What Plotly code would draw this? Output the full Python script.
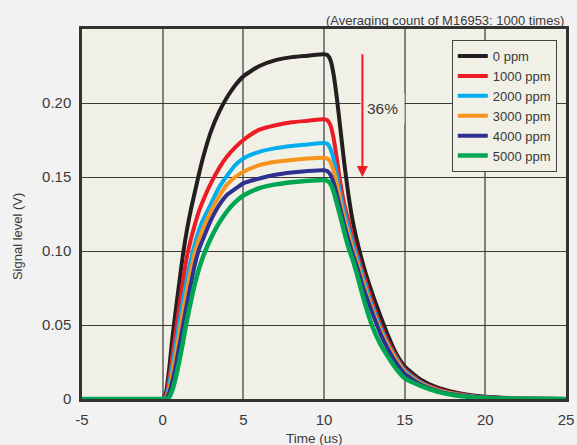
import plotly.graph_objects as go

# ---- data ----
time_us = [-5, 0, 0.2, 0.4, 0.6, 0.8, 1.0, 1.25, 1.5, 1.75,
           2.0, 2.25, 2.5, 3.0, 3.5, 4.0, 4.5, 5.0, 6.0, 7.0,
           8.0, 9.0, 10.0, 10.2, 10.4, 10.6, 10.8, 11.0, 11.25, 11.5,
           11.75, 12.0, 12.5, 13.0, 13.5, 14.0, 14.5, 15.0, 16.0, 17.0,
           18.0, 19.0, 20.0, 22.0, 25.0]

ppm_0 = [0, 0, 0.004, 0.020, 0.041, 0.059, 0.076, 0.097, 0.114, 0.128,
         0.140, 0.152, 0.163, 0.181, 0.194, 0.204, 0.212, 0.218, 0.225, 0.229,
         0.231, 0.232, 0.233, 0.2325, 0.229, 0.219, 0.203, 0.184, 0.160, 0.139,
         0.122, 0.109, 0.088, 0.071, 0.056, 0.042, 0.030, 0.022, 0.013, 0.0078,
         0.0048, 0.0028, 0.0015, 0.0005, 0]
ppm_1000 = [0, 0, 0.002, 0.013, 0.029, 0.045, 0.060, 0.079, 0.096, 0.108,
            0.118, 0.127, 0.134, 0.146, 0.156, 0.164, 0.170, 0.175, 0.182, 0.185,
            0.187, 0.188, 0.189, 0.1885, 0.185, 0.176, 0.162, 0.147, 0.132, 0.121,
            0.110, 0.100, 0.082, 0.065, 0.050, 0.038, 0.028, 0.020, 0.0115, 0.0068,
            0.004, 0.0022, 0.0011, 0.0003, 0]
ppm_2000 = [0, 0, 0.001, 0.009, 0.022, 0.036, 0.050, 0.066, 0.081, 0.094,
            0.105, 0.114, 0.121, 0.132, 0.143, 0.151, 0.158, 0.1625, 0.167, 0.1695,
            0.171, 0.172, 0.173, 0.1725, 0.169, 0.162, 0.151, 0.139, 0.127, 0.116,
            0.106, 0.097, 0.079, 0.062, 0.048, 0.036, 0.027, 0.019, 0.011, 0.0062,
            0.0036, 0.002, 0.001, 0.0003, 0]
ppm_3000 = [0, 0, 0.0005, 0.006, 0.017, 0.029, 0.042, 0.058, 0.073, 0.087,
            0.099, 0.108, 0.115, 0.127, 0.137, 0.145, 0.150, 0.1535, 0.158, 0.1603,
            0.1615, 0.1625, 0.163, 0.1625, 0.160, 0.154, 0.145, 0.134, 0.122, 0.112,
            0.102, 0.094, 0.076, 0.060, 0.046, 0.035, 0.026, 0.018, 0.0105, 0.006,
            0.0034, 0.0019, 0.0009, 0.0003, 0]
ppm_4000 = [0, 0, 0, 0.004, 0.012, 0.022, 0.034, 0.049, 0.064, 0.078,
            0.091, 0.101, 0.108, 0.121, 0.131, 0.138, 0.142, 0.1457, 0.149, 0.1515,
            0.153, 0.154, 0.1545, 0.154, 0.1515, 0.146, 0.138, 0.129, 0.118, 0.108,
            0.099, 0.091, 0.073, 0.058, 0.044, 0.033, 0.024, 0.017, 0.0098, 0.0055,
            0.003, 0.0017, 0.0008, 0.0002, 0]
ppm_5000 = [0, 0, 0, 0.001, 0.006, 0.014, 0.024, 0.038, 0.053, 0.066,
            0.078, 0.088, 0.096, 0.109, 0.119, 0.127, 0.133, 0.1375, 0.1425, 0.145,
            0.1465, 0.1475, 0.148, 0.1475, 0.1455, 0.140, 0.132, 0.124, 0.113, 0.103,
            0.095, 0.086, 0.066, 0.049, 0.037, 0.028, 0.020, 0.014, 0.0088, 0.005,
            0.0027, 0.0014, 0.0007, 0.0002, 0]

series_names = ["0 ppm", "1000 ppm", "2000 ppm", "3000 ppm", "4000 ppm", "5000 ppm"]
series_values = [ppm_0, ppm_1000, ppm_2000, ppm_3000, ppm_4000, ppm_5000]
series_colors = ["#231f20", "#ed1c24", "#00aeef", "#f7941d", "#2e3192", "#00a651"]
series_widths = [4, 4, 4, 4, 4, 4.5]

x_tick_vals = [-5, 0, 5, 10, 15, 20, 25]
x_tick_text = ["-5", "0", "5", "10", "15", "20", "25"]
y_tick_vals = [0, 0.05, 0.10, 0.15, 0.20]
y_tick_text = ["0", "0.05", "0.10", "0.15", "0.20"]

arrow_x = 12.38
arrow_from = 0.234
arrow_to = 0.150

FONT = "Liberation Sans, Arial, sans-serif"
TXT = "#3a3a3a"
PLOT_BG = "#f1f0e6"

fig = go.Figure()
for name, vals, col, w in zip(series_names, series_values, series_colors, series_widths):
    fig.add_trace(go.Scatter(x=time_us, y=vals, name=name, mode="lines",
                             line=dict(color=col, width=w, shape="spline", smoothing=0.6)))

fig.update_layout(
    width=577, height=445,
    margin=dict(l=82, r=11, t=29, b=46),
    paper_bgcolor="#f2f2f2",
    plot_bgcolor=PLOT_BG,
    font=dict(family=FONT, color=TXT, size=15),
    showlegend=True,
    legend=dict(x=0.981, y=0.970, xanchor="right", yanchor="top",
                bgcolor=PLOT_BG, bordercolor="#444", borderwidth=1,
                font=dict(family=FONT, size=13, color=TXT),
                tracegroupgap=0),
    xaxis=dict(range=[-5, 25], tickvals=x_tick_vals, ticktext=x_tick_text, showgrid=True,
               gridcolor="#808080", gridwidth=1.5, automargin=False,
               zeroline=False, showline=True, linecolor="#333", linewidth=2.5, mirror=True,
               ticks="", ticklabelstandoff=5, tickfont=dict(size=15)),
    yaxis=dict(range=[0, 0.25], tickvals=y_tick_vals, ticktext=y_tick_text, showgrid=True,
               gridcolor="#3a3a3a", gridwidth=1, zeroline=False, showline=True, linecolor="#333",
               automargin=False,
               linewidth=2.5, mirror=True, ticks="", ticklabelstandoff=5, tickfont=dict(size=15)),
)

fig.add_annotation(text="(Averaging count of M16953: 1000 times)", xref="paper", yref="paper",
                   x=1.0, y=1.024, xanchor="right", yanchor="middle", showarrow=False,
                   font=dict(size=13, color=TXT))
fig.add_annotation(text="Time (us)", xref="paper", yref="paper", x=0.481, y=-0.108,
                   xanchor="center", yanchor="middle", showarrow=False, font=dict(size=13.5, color=TXT))
fig.add_annotation(text="Signal level (V)", xref="paper", yref="paper", x=-0.132, y=0.438,
                   xanchor="center", yanchor="middle", textangle=-90, showarrow=False,
                   font=dict(size=13, color=TXT))
fig.add_annotation(text="36%", x=13.62, y=0.1966, xref="x", yref="y", showarrow=False,
                   bgcolor=PLOT_BG, borderpad=6, font=dict(size=15.5, color=TXT))
fig.add_annotation(text="", x=arrow_x, y=arrow_to, ax=arrow_x, ay=arrow_from, xref="x", yref="y",
                   axref="x", ayref="y", showarrow=True, arrowhead=2, arrowsize=1.1, arrowwidth=2,
                   arrowcolor="#ed1c24")

fig.write_html("out.html", config={"displayModeBar": False},
               post_script="document.body.style.margin='0';document.body.style.overflow='hidden';")
